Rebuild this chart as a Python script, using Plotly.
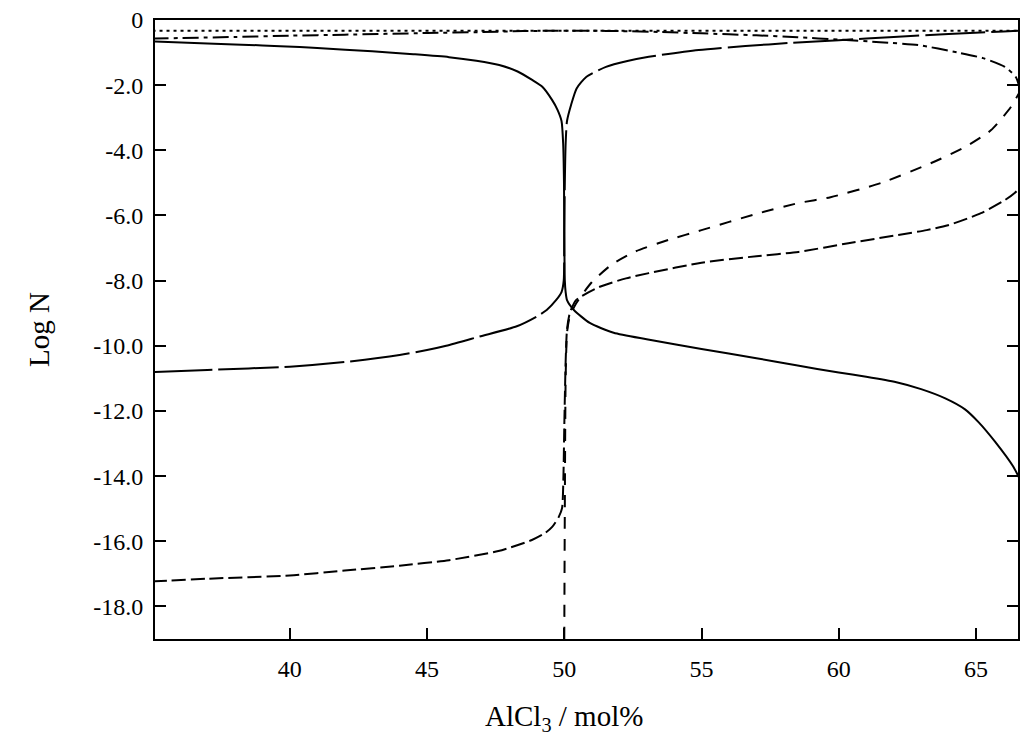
import plotly.graph_objects as go

# Log of species mole fraction versus AlCl3 content (mol%)
x_emi = [35.0, 66.7]
y_emi = [-0.33, -0.33]

x_alcl4 = [35.0, 38, 40, 42, 45, 47, 48.5, 49.5, 50, 51, 52, 53.5, 55, 57, 58.5, 60,
           61.5, 62.9, 64.35, 65.25, 66.05, 66.45, 66.6]
y_alcl4 = [-0.57, -0.52, -0.48, -0.45, -0.40, -0.37, -0.34, -0.33, -0.33, -0.33, -0.34,
           -0.37, -0.41, -0.47, -0.53, -0.60, -0.68, -0.77, -1.00, -1.17, -1.44, -1.75, -2.1]

x_cl = [35.0, 37, 39, 40.36, 41, 43, 44.5, 45.8, 46.8, 47.63, 48.3, 48.83, 49.2, 49.56,
        49.75, 49.9, 49.96, 49.99, 50.0, 50.02, 50.05, 50.1, 50.35, 50.93, 51.8, 53.0,
        55, 57, 58.45, 60, 61.0, 62.1, 63.0, 63.9, 64.6, 65.1, 65.7, 66.35, 66.6]
y_cl = [-0.66, -0.72, -0.78, -0.83, -0.86, -0.96, -1.05, -1.14, -1.25, -1.38, -1.58,
        -1.84, -2.05, -2.46, -2.75, -3.1, -3.8, -5.0, -6.5, -8.0, -8.35, -8.6, -8.9,
        -9.3, -9.6, -9.8, -10.1, -10.38, -10.6, -10.82, -10.95, -11.12, -11.33, -11.62,
        -11.95, -12.35, -12.95, -13.7, -14.1]

x_al2cl7 = [35.0, 37, 40, 42, 44, 45, 45.7, 46.9, 48.27, 49.0, 49.36, 49.7, 49.9, 49.98,
            50.0, 50.02, 50.05, 50.1, 50.25, 50.45, 50.8, 51.52, 52.3, 53.08, 54.9, 56.6,
            58.3, 60, 62, 64, 66, 66.6]
y_al2cl7 = [-10.81, -10.74, -10.64, -10.5, -10.28, -10.13, -10.0, -9.72, -9.4, -9.1,
            -8.9, -8.6, -8.35, -8.0, -6.5, -5.0, -3.8, -3.1, -2.6, -2.1, -1.75, -1.44,
            -1.26, -1.13, -0.92, -0.80, -0.70, -0.62, -0.52, -0.43, -0.35, -0.33]

x_al2cl6 = [50.0, 50.02, 50.05, 50.1, 50.2, 50.43, 51.0, 51.74, 52.6, 53.8, 55, 57,
            58.53, 59.7, 61.55, 63.37, 64.6, 65.55, 66.27, 66.6]
y_al2cl6 = [-19.0, -15.0, -11.0, -9.6, -9.1, -8.7, -8.05, -7.5, -7.1, -6.75, -6.45,
            -5.95, -5.62, -5.44, -5.0, -4.39, -3.9, -3.38, -2.67, -2.2]

x_al3cl10 = [35.0, 37, 40, 42, 44, 45.8, 47.6, 48.8, 49.3, 49.56, 49.8, 49.92, 49.97,
             50.0, 50.05, 50.1, 50.2, 50.43, 51.26, 52.25, 53.08, 55, 57, 58.53, 60.35,
             62.17, 63.2, 63.98, 65.18, 66.05, 66.42, 66.6]
y_al3cl10 = [-17.23, -17.15, -17.05, -16.9, -16.75, -16.58, -16.3, -15.97, -15.75,
             -15.56, -15.25, -14.98, -14.0, -12.5, -10.5, -9.5, -9.0, -8.6, -8.2, -7.93,
             -7.77, -7.45, -7.25, -7.12, -6.85, -6.6, -6.45, -6.3, -5.93, -5.53, -5.3,
             -5.15]

x_ticks = [40, 45, 50, 55, 60, 65]
y_ticks = [0, -2, -4, -6, -8, -10, -12, -14, -16, -18]
y_ticktext = ["0", "-2.0", "-4.0", "-6.0", "-8.0", "-10.0", "-12.0", "-14.0", "-16.0", "-18.0"]

series = [
    ("EMI+", x_emi, y_emi, "3px,4px"),
    ("AlCl4-", x_alcl4, y_alcl4, "16px,5px,4px,5px"),
    ("Cl-", x_cl, y_cl, "solid"),
    ("Al2Cl7-", x_al2cl7, y_al2cl7, "60px,6px"),
    ("Al2Cl6", x_al2cl6, y_al2cl6, "12px,10px"),
    ("Al3Cl10-", x_al3cl10, y_al3cl10, "14px,5px"),
]

fig = go.Figure()
for name, xs, ys, dash in series:
    fig.add_trace(go.Scatter(x=xs, y=ys, mode="lines", name=name,
                             line=dict(color="black", width=2, dash=dash,
                                       shape="spline", smoothing=0.6)))

font_family = "Liberation Serif"
fig.update_layout(
    width=1020, height=748,
    margin=dict(l=155, r=0, t=20, b=109),
    paper_bgcolor="white", plot_bgcolor="white",
    showlegend=False,
    font=dict(family=font_family, color="black", size=24),
    xaxis=dict(range=[35.09, 66.53], tickvals=x_ticks, ticks="inside", ticklen=11,
               tickwidth=2, tickcolor="black", showline=True, linecolor="black",
               linewidth=2, mirror=True, showgrid=False, zeroline=False,
               tickfont=dict(size=24), ticklabelstandoff=7),
    yaxis=dict(range=[-19, 0], tickvals=y_ticks, ticktext=y_ticktext, ticks="inside",
               ticklen=11, tickwidth=2, tickcolor="black", showline=True,
               linecolor="black", linewidth=2, mirror="ticks", showgrid=False,
               zeroline=False, tickfont=dict(size=24), ticklabelstandoff=5),
    annotations=[
        dict(text="AlCl<sub>3</sub> / mol%", xref="x", yref="paper", x=50, y=-0.128,
             xanchor="center", yanchor="middle", showarrow=False,
             font=dict(size=29, family=font_family)),
        dict(text="Log N", xref="paper", yref="paper", x=-0.135, y=0.5, textangle=-90,
             xanchor="center", yanchor="middle", showarrow=False,
             font=dict(size=29, family=font_family)),
    ],
)

fig.write_html("out.html")
